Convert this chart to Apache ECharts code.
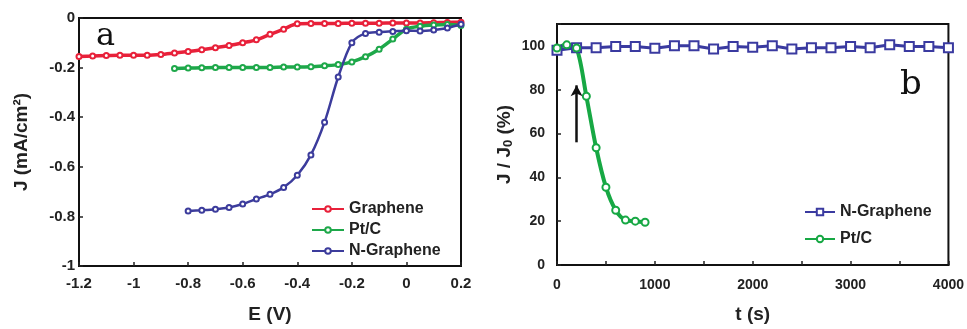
<!DOCTYPE html>
<html>
<head>
<meta charset="utf-8">
<style>
  html, body { margin: 0; padding: 0; background: #fff; }
  #chart { width: 967px; height: 329px; }
</style>
<script src="https://cdn.jsdelivr.net/npm/echarts@6/dist/echarts.min.js"></script>
</head>
<body>
<div id="chart"></div>
<script>
// panel a: polarisation curves, E (V) vs J (mA/cm2)
const eGraphene = [-1.2, -1.15, -1.1, -1.05, -1.0, -0.95, -0.9, -0.85, -0.8, -0.75, -0.7, -0.65, -0.6, -0.55, -0.5,
  -0.45, -0.4, -0.35, -0.3, -0.25, -0.2, -0.15, -0.1, -0.05, 0, 0.05, 0.1, 0.15, 0.2]
const jGraphene = [-0.155, -0.153, -0.151, -0.150, -0.150, -0.150, -0.147, -0.141, -0.135, -0.128, -0.120, -0.111, -0.100, -0.088, -0.066,
  -0.045, -0.023, -0.022, -0.022, -0.022, -0.021, -0.021, -0.021, -0.020, -0.020, -0.020, -0.019, -0.018, -0.017]

const ePtC = [-0.85, -0.8, -0.75, -0.7, -0.65, -0.6, -0.55, -0.5, -0.45, -0.4, -0.35, -0.3, -0.25, -0.2, -0.15,
  -0.1, -0.05, 0, 0.05, 0.1, 0.15, 0.2]
const jPtC = [-0.204, -0.202, -0.201, -0.200, -0.200, -0.200, -0.200, -0.200, -0.198, -0.198, -0.197, -0.193, -0.188, -0.177, -0.156,
  -0.126, -0.085, -0.045, -0.033, -0.028, -0.026, -0.030]

const eNGraphene = [-0.8, -0.75, -0.7, -0.65, -0.6, -0.55, -0.5, -0.45, -0.4, -0.35, -0.3, -0.25, -0.2, -0.15,
  -0.1, -0.05, 0, 0.05, 0.1, 0.15, 0.2]
const jNGraphene = [-0.778, -0.775, -0.771, -0.764, -0.750, -0.730, -0.711, -0.683, -0.634, -0.552, -0.420, -0.238, -0.100, -0.062,
  -0.057, -0.054, -0.051, -0.052, -0.048, -0.040, -0.025]

// panel b: current retention, t (s) vs J/J0 (%)
const tNGraphene = [0, 200, 400, 600, 800, 1000, 1200, 1400, 1600, 1800, 2000, 2200, 2400, 2600, 2800, 3000, 3200, 3400, 3600, 3800, 4000]
const rNGraphene = [98, 99.2, 99.2, 99.7, 99.7, 98.9, 100.1, 100.1, 98.6, 99.7, 99.4, 100.1, 98.6, 99.2, 99.2, 99.7, 99.2, 100.5, 99.7, 99.7, 99.2]
const tPtC = [0, 100, 200, 300, 400, 500, 600, 700, 800, 900]
const rPtC = [99, 100.5, 99, 77, 53.5, 35.5, 25, 20.5, 20, 19.5]

// arrow in panel b (data coords: from, to)
const arrowFrom = [200, 56]
const arrowTo = [200, 82]

const zip = (xs, ys) => xs.map((x, i) => [x, ys[i]])

const FONT = 'Liberation Sans, Arial, sans-serif'
const SERIF = 'DejaVu Serif, Liberation Serif, serif'
const labelFont = { color: '#222', fontWeight: 'bold', fontSize: 15, fontFamily: FONT }
const labelFontB = { color: '#222', fontWeight: 'bold', fontSize: 14, fontFamily: FONT }
const legendFont = { color: '#222', fontWeight: 'bold', fontSize: 16, fontFamily: FONT }
const nameFont = { color: '#222', fontWeight: 'bold', fontSize: 19, fontFamily: FONT }
const tick = { show: true, inside: true, length: 4, lineStyle: { color: '#222', width: 1.5 } }
const line = { show: true, onZero: false, lineStyle: { color: '#111', width: 2 } }

let myChart = echarts.init(document.getElementById('chart'))
myChart.setOption({
  animation: false,
  title: [
    { text: 'a', left: 91, top: 16, textStyle: { fontFamily: SERIF, fontWeight: 'normal', fontSize: 32, color: '#111' } },
    { text: 'b', left: 895, top: 63, textStyle: { fontFamily: SERIF, fontWeight: 'normal', fontSize: 34, color: '#111' } }
  ],
  grid: [
    { left: 79, top: 18, width: 382, height: 253, show: true, borderColor: '#111', borderWidth: 2 },
    { left: 557, top: 24, width: 395, height: 242, show: true, borderColor: '#111', borderWidth: 2 }
  ],
  legend: [
    {
      orient: 'vertical', left: 311, top: 201, padding: 0, itemWidth: 32, itemHeight: 7, itemGap: 5,
      data: ['Graphene', 'Pt/C', 'N-Graphene'],
      textStyle: legendFont
    },
    {
      orient: 'vertical', left: 804, top: 204, padding: 0, itemWidth: 30, itemHeight: 8, itemGap: 11,
      data: ['b:N-Graphene', 'b:Pt/C'],
      formatter: name => name.replace('b:', ''),
      textStyle: legendFont
    }
  ],
  xAxis: [
    {
      gridIndex: 0, type: 'value', min: -1.2, max: 0.2, interval: 0.2,
      name: 'E (V)', nameLocation: 'middle', nameGap: 39, nameTextStyle: nameFont,
      axisLine: line, axisTick: tick, splitLine: { show: false },
      axisLabel: Object.assign({ margin: 10, formatter: v => String(+v.toFixed(1)) }, labelFont)
    },
    {
      gridIndex: 1, type: 'value', min: 0, max: 4000, interval: 1000,
      name: 't (s)', nameLocation: 'middle', nameGap: 40, nameTextStyle: nameFont,
      axisLine: line, axisTick: tick, splitLine: { show: false },
      minorTick: { show: true, splitNumber: 2, length: 4, lineStyle: { color: '#222', width: 1.5 } },
      axisLabel: Object.assign({ margin: 13, formatter: v => String(v) }, labelFontB)
    }
  ],
  yAxis: [
    {
      gridIndex: 0, type: 'value', min: -1, max: 0, interval: 0.2,
      name: 'J (mA/cm²)', nameLocation: 'middle', nameGap: 48, nameTextStyle: nameFont,
      axisLine: line, axisTick: tick, splitLine: { show: false },
      axisLabel: Object.assign({ margin: 4, formatter: v => String(+v.toFixed(1)) }, labelFont)
    },
    {
      gridIndex: 1, type: 'value', min: 0, max: 110, interval: 20,
      name: '{a|J / J}{s|0}{a| (%)}', nameLocation: 'middle', nameGap: 42,
      nameTextStyle: Object.assign({}, nameFont, {
        rich: {
          a: nameFont,
          s: Object.assign({}, nameFont, { fontSize: 13, padding: [7, 0, 0, 0] })
        }
      }),
      axisLine: line, axisTick: tick, splitLine: { show: false },
      axisLabel: Object.assign({ margin: 12, formatter: v => (v > 100 ? '' : String(v)) }, labelFontB)
    }
  ],
  series: [
    {
      name: 'Graphene', type: 'line', xAxisIndex: 0, yAxisIndex: 0, smooth: 0.3,
      data: zip(eGraphene, jGraphene),
      symbol: 'emptyCircle', symbolSize: 5,
      lineStyle: { color: '#e8213a', width: 3.5 },
      itemStyle: { color: '#e8213a', borderColor: '#8f8fd6', borderWidth: 1.2 }
    },
    {
      name: 'Pt/C', type: 'line', xAxisIndex: 0, yAxisIndex: 0, smooth: 0.3,
      data: zip(ePtC, jPtC),
      symbol: 'emptyCircle', symbolSize: 5,
      lineStyle: { color: '#1ea84a', width: 3.5 },
      itemStyle: { color: '#1ea84a', borderColor: '#2fae55', borderWidth: 1.2 }
    },
    {
      name: 'N-Graphene', type: 'line', xAxisIndex: 0, yAxisIndex: 0, smooth: 0.3,
      data: zip(eNGraphene, jNGraphene),
      symbol: 'emptyCircle', symbolSize: 5,
      lineStyle: { color: '#3c3c9c', width: 2.5 },
      itemStyle: { color: '#3c3c9c', borderColor: '#4a4ab0', borderWidth: 1.2 }
    },
    {
      name: 'b:N-Graphene', type: 'line', xAxisIndex: 1, yAxisIndex: 1,
      data: zip(tNGraphene, rNGraphene),
      symbol: 'emptyRect', symbolSize: 9,
      lineStyle: { color: '#3a3aa0', width: 3 },
      itemStyle: { color: '#3a3aa0', borderColor: '#4646b4', borderWidth: 1.5 }
    },
    {
      name: 'b:Pt/C', type: 'line', xAxisIndex: 1, yAxisIndex: 1, smooth: 0.3,
      data: zip(tPtC, rPtC),
      symbol: 'emptyCircle', symbolSize: 7,
      lineStyle: { color: '#17a844', width: 4 },
      itemStyle: { color: '#17a844', borderColor: '#2fb055', borderWidth: 1.5 },
      markLine: {
        silent: true,
        symbol: ['none', 'arrow'],
        symbolSize: [9, 11],
        label: { show: false },
        lineStyle: { color: '#111', width: 2.5, type: 'solid' },
        data: [[{ coord: arrowFrom }, { coord: arrowTo }]]
      }
    }
  ]
})
</script>
</body>
</html>
